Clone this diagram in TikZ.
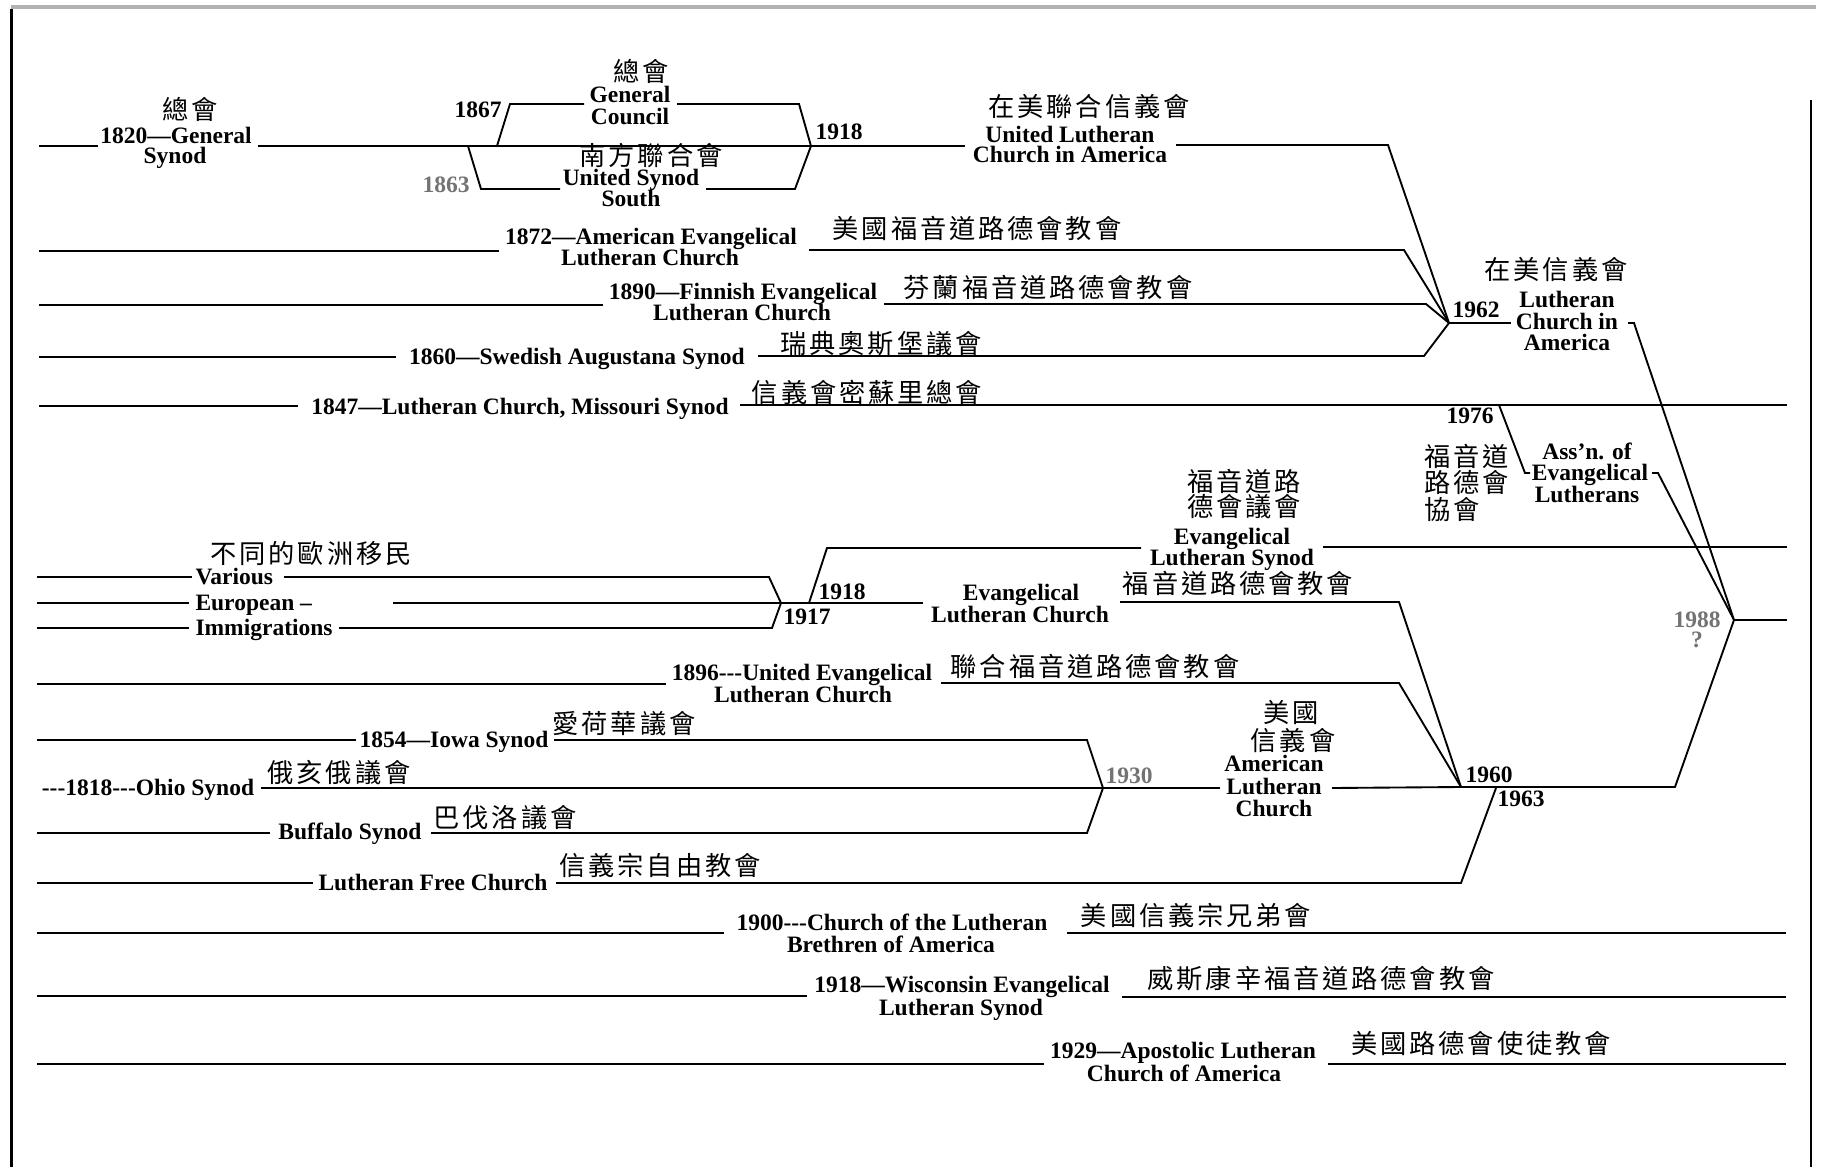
\documentclass[tikz,border=0pt]{standalone}
\usepackage{fontspec}
\setmainfont{Liberation Serif}
\newfontfamily\cjk[LetterSpace=11]{Noto Sans CJK TC}
\begin{document}
\begin{tikzpicture}[x=0.4pt,y=-0.4pt,
  ln/.style={line width=0.75pt, line join=miter},
  en/.style={anchor=base, inner sep=0pt, font=\fontsize{9.4}{10}\selectfont\bfseries},
  enl/.style={en, anchor=base west},
  enr/.style={en, anchor=base east},
  zh/.style={anchor=base, inner sep=0pt, font=\fontsize{10.5}{11}\selectfont\cjk},
  zhl/.style={zh, anchor=base west},
  dim/.style={text=black!55}]
\useasboundingbox (0,0) rectangle (1821,1167);
% frame
\draw[line width=1.2pt] (11,1167) -- (11,9);
\draw[line width=1.3pt, gray!60] (11,7) -- (1816,7);
\draw[line width=1pt] (1811,100) -- (1811,1167);

% ---------- coordinates ----------
\coordinate (gs0) at (39,146); \coordinate (gs1) at (98,146);
\coordinate (gs2) at (258,146); \coordinate (gs3) at (965,146);
\coordinate (ul0) at (1176,145); \coordinate (ul1) at (1388,145);
\coordinate (j1962) at (1449,323);
\coordinate (gc0) at (497,146); \coordinate (gc1) at (510,104); \coordinate (gc2) at (584,104);
\coordinate (gc3) at (677,104); \coordinate (gc4) at (799,104); \coordinate (j1918a) at (811,146);
\coordinate (us0) at (468,146); \coordinate (us1) at (481,189); \coordinate (us2) at (560,189);
\coordinate (us3) at (706,189); \coordinate (us4) at (795,189);
\coordinate (ae0) at (39,251); \coordinate (ae1) at (499,251); \coordinate (ae2) at (809,250); \coordinate (ae3) at (1404,250);
\coordinate (fe0) at (39,305); \coordinate (fe1) at (603,305); \coordinate (fe2) at (884,304); \coordinate (fe3) at (1426,304);
\coordinate (sa0) at (39,357); \coordinate (sa1) at (396,357); \coordinate (sa2) at (758,356); \coordinate (sa3) at (1424,356);
\coordinate (ms0) at (39,406); \coordinate (ms1) at (298,406); \coordinate (ms2) at (740,405); \coordinate (ms3) at (1787,405);
\coordinate (j1976) at (1499,405); \coordinate (aa0) at (1525,473); \coordinate (aa1) at (1530,473);
\coordinate (aa2) at (1652,473); \coordinate (aa3) at (1658,473);
\coordinate (j1988) at (1734,620); \coordinate (r88) at (1787,620); \coordinate (b88) at (1675,787);
\coordinate (lc1) at (1511,323); \coordinate (lc2) at (1628,323); \coordinate (lc3) at (1634,323);
\coordinate (j1917) at (781,603); \coordinate (j1918b) at (809,603);
\coordinate (es0) at (827,548); \coordinate (es1) at (1141,548); \coordinate (es2) at (1323,547); \coordinate (es3) at (1787,547);
\coordinate (va0) at (37,577); \coordinate (va1) at (192,577); \coordinate (va2) at (284,577); \coordinate (va3) at (769,577);
\coordinate (eu0) at (37,603); \coordinate (eu1) at (189,603); \coordinate (eu2) at (393,603);
\coordinate (im0) at (37,628); \coordinate (im1) at (189,628); \coordinate (im2) at (339,628); \coordinate (im3) at (772,628);
\coordinate (el0) at (923,603); \coordinate (el1) at (1120,602); \coordinate (el2) at (1399,602);
\coordinate (j1960) at (1461,787);
\coordinate (ue0) at (37,684); \coordinate (ue1) at (666,684); \coordinate (ue2) at (941,683); \coordinate (ue3) at (1399,683);
\coordinate (io0) at (37,740); \coordinate (io1) at (356,740); \coordinate (io2) at (554,740); \coordinate (io3) at (1087,740);
\coordinate (j1930) at (1103,788);
\coordinate (oh0) at (261,788); \coordinate (al0) at (1220,788); \coordinate (al1) at (1332,788);
\coordinate (bu0) at (37,833); \coordinate (bu1) at (270,833); \coordinate (bu2) at (431,833); \coordinate (bu3) at (1087,833);
\coordinate (lf0) at (37,883); \coordinate (lf1) at (313,883); \coordinate (lf2) at (556,883); \coordinate (lf3) at (1461,883);
\coordinate (j1963) at (1496,788);
\coordinate (cb0) at (37,933); \coordinate (cb1) at (724,933); \coordinate (cb2) at (1067,933); \coordinate (cb3) at (1786,933);
\coordinate (wi0) at (37,996); \coordinate (wi1) at (807,996); \coordinate (wi2) at (1122,997); \coordinate (wi3) at (1786,997);
\coordinate (ap0) at (37,1064); \coordinate (ap1) at (1044,1064); \coordinate (ap2) at (1328,1064); \coordinate (ap3) at (1786,1064);

% ---------- lines ----------
\begin{scope}[ln]
\draw (gs0) -- (gs1);
\draw (gs2) -- (gs3);
\draw (ul0) -- (ul1) -- (j1962);
\draw (gc0) -- (gc1) -- (gc2);
\draw (gc3) -- (gc4) -- (j1918a);
\draw (us0) -- (us1) -- (us2);
\draw (us3) -- (us4) -- (j1918a);
\draw (ae0) -- (ae1);
\draw (ae2) -- (ae3) -- (j1962);
\draw (fe0) -- (fe1);
\draw (fe2) -- (fe3) -- (j1962);
\draw (sa0) -- (sa1);
\draw (sa2) -- (sa3) -- (j1962);
\draw (ms0) -- (ms1);
\draw (ms2) -- (ms3);
\draw (j1976) -- (aa0) -- (aa1);
\draw (aa2) -- (aa3) -- (j1988);
\draw (j1962) -- (lc1);
\draw (lc2) -- (lc3) -- (j1988);
\draw (j1988) -- (r88);
\draw (j1988) -- (b88) -- (j1960);
\draw (va0) -- (va1);
\draw (va2) -- (va3) -- (j1917);
\draw (eu0) -- (eu1);
\draw (eu2) -- (j1917) -- (j1918b) -- (el0);
\draw (im0) -- (im1);
\draw (im2) -- (im3) -- (j1917);
\draw (j1918b) -- (es0) -- (es1);
\draw (es2) -- (es3);
\draw (el1) -- (el2) -- (j1960);
\draw (ue0) -- (ue1);
\draw (ue2) -- (ue3) -- (j1960);
\draw (io0) -- (io1);
\draw (io2) -- (io3) -- (j1930);
\draw (oh0) -- (j1930) -- (al0);
\draw (al1) -- (j1960);
\draw (bu0) -- (bu1);
\draw (bu2) -- (bu3) -- (j1930);
\draw (lf0) -- (lf1);
\draw (lf2) -- (lf3) -- (j1963);
\draw (cb0) -- (cb1);
\draw (cb2) -- (cb3);
\draw (wi0) -- (wi1);
\draw (wi2) -- (wi3);
\draw (ap0) -- (ap1);
\draw (ap2) -- (ap3);
\end{scope}

% ---------- labels ----------
\node[zh] (gsz) at (190,119.5) {總會};
\node[en] (gsa) at (176,143) {1820—General};
\node[en] (gsb) at (175,163) {Synod};
\node[enr] (t1867) at (502,117) {1867};
\node[zh] (gcz) at (641,81.5) {總會};
\node[en] (gca) at (630,102) {General};
\node[en] (gcb) at (630,124) {Council};
\node[enl] (t1918a) at (815,139) {1918};
\node[en,dim] (t1863) at (446,192) {1863};
\node[zh] (usz) at (651,165) {南方聯合會};
\node[en] (usa) at (631,185) {United Synod};
\node[en] (usb) at (631,206) {South};
\node[zh] (ulz) at (1089,116.5) {在美聯合信義會};
\node[en] (ula) at (1070,142) {United Lutheran};
\node[en] (ulb) at (1070,162) {Church in America};

\node[en] (aea) at (651,244) {1872—American Evangelical};
\node[en] (aeb) at (650,265) {Lutheran Church};
\node[zh] (aez) at (977,238.5) {美國福音道路德會教會};
\node[en] (fea) at (743,299) {1890—Finnish Evangelical};
\node[en] (feb) at (742,320) {Lutheran Church};
\node[zh] (fez) at (1048,297.5) {芬蘭福音道路德會教會};
\node[en] (saa) at (577,364) {1860—Swedish Augustana Synod};
\node[zh] (saz) at (881,353.5) {瑞典奧斯堡議會};
\node[en] (msa) at (520,414) {1847—Lutheran Church, Missouri Synod};
\node[zh] (msz) at (867,402.5) {信義會密蘇里總會};
\node[enr] (t1976) at (1494,423) {1976};
\node[en] (aaa) at (1587,459) {Ass'n. of};
\node[en] (aab) at (1590,480) {Evangelical};
\node[en] (aac) at (1587,502) {Lutherans};
\node[zhl] (aaz1) at (1424,466) {福音道};
\node[zhl] (aaz2) at (1424,492) {路德會};
\node[zhl] (aaz3) at (1424,519) {協會};
\node[zh] (lcz) at (1556,279.5) {在美信義會};
\node[en] (lca) at (1567,307) {Lutheran};
\node[en] (lcb) at (1567,329) {Church in};
\node[en] (lcc) at (1567,350) {America};
\node[enl] (t1962) at (1452,317) {1962};
\node[en,dim] (t1988) at (1697,627) {1988};
\node[en,dim] (tq) at (1697,647) {?};

\node[zh] (esz1) at (1244,491.5) {福音道路};
\node[zh] (esz2) at (1244,516.5) {德會議會};
\node[en] (esa) at (1232,544) {Evangelical};
\node[en] (esb) at (1232,565) {Lutheran Synod};
\node[zh] (vez) at (311,563) {不同的歐洲移民};
\node[enl] (vea) at (195,584) {Various};
\node[enl] (veb) at (195,610) {European –};
\node[enl] (vec) at (195,635) {Immigrations};
\node[enl] (t1917) at (783,624) {1917};
\node[enl] (t1918b) at (818,599) {1918};
\node[en] (ela) at (1021,600) {Evangelical};
\node[en] (elb) at (1020,622) {Lutheran Church};
\node[zh] (elz) at (1238,593.5) {福音道路德會教會};
\node[en] (uea) at (802,680) {1896-{}-{}-United Evangelical};
\node[en] (ueb) at (803,702) {Lutheran Church};
\node[zh] (uez) at (1095,676.5) {聯合福音道路德會教會};
\node[en] (ioa) at (454,747) {1854—Iowa Synod};
\node[zh] (ioz) at (624,733.5) {愛荷華議會};
\node[en] (oha) at (148,795) {-{}-{}-1818-{}-{}-Ohio Synod};
\node[zh] (ohz) at (339,782.5) {俄亥俄議會};
\node[en,dim] (t1930) at (1129,783) {1930};
\node[zh] (alz1) at (1291,722.5) {美國};
\node[zh] (alz2) at (1293,750.5) {信義會};
\node[en] (ala) at (1274,771) {American};
\node[en] (alb) at (1274,794) {Lutheran};
\node[en] (alc) at (1274,816) {Church};
\node[en] (t1960) at (1489,782) {1960};
\node[en] (t1963) at (1521,806) {1963};
\node[en] (bua) at (350,839) {Buffalo Synod};
\node[zh] (buz) at (505,827.5) {巴伐洛議會};
\node[en] (lfa) at (433,890) {Lutheran Free Church};
\node[zh] (lfz) at (660,875.5) {信義宗自由教會};
\node[en] (cba) at (892,930) {1900-{}-{}-Church of the Lutheran};
\node[en] (cbb) at (891,952) {Brethren of America};
\node[zh] (cbz) at (1196,925.5) {美國信義宗兄弟會};
\node[en] (wia) at (962,992) {1918—Wisconsin Evangelical};
\node[en] (wib) at (961,1015) {Lutheran Synod};
\node[zh] (wiz) at (1321,988.5) {威斯康辛福音道路德會教會};
\node[en] (apa) at (1183,1058) {1929—Apostolic Lutheran};
\node[en] (apb) at (1184,1081) {Church of America};
\node[zh] (apz) at (1481,1053.5) {美國路德會使徒教會};
\end{tikzpicture}
\end{document}
